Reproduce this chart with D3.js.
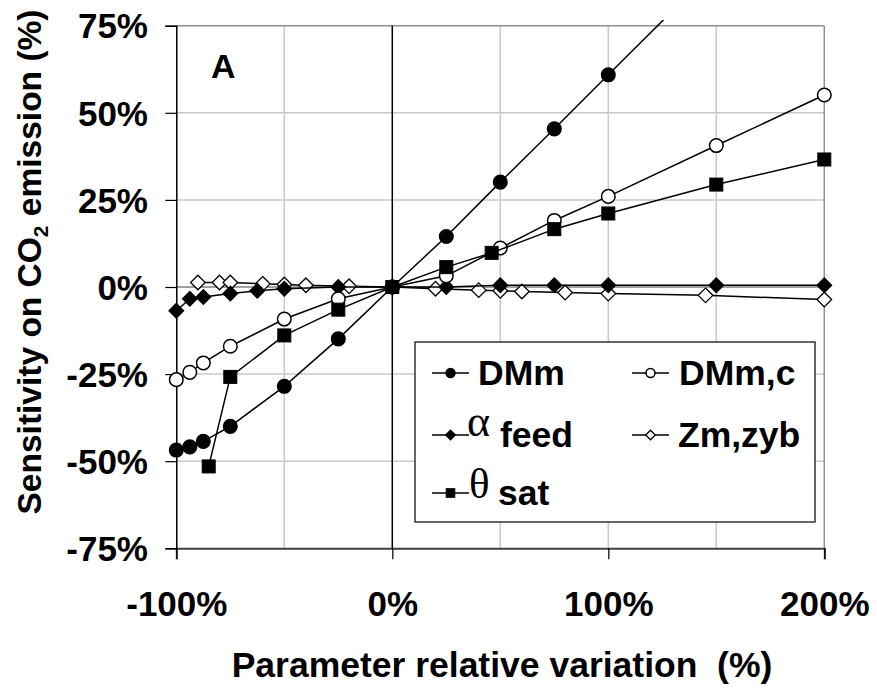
<!DOCTYPE html>
<html><head><meta charset="utf-8">
<script src="https://cdn.jsdelivr.net/npm/d3@7"></script>
<style>body{margin:0;background:#fff}svg{display:block}text{font-family:"Liberation Sans",Arial,sans-serif;font-weight:bold;fill:#000}</style>
</head><body><svg id="c" width="877" height="691"></svg>
<script>
// Data
const xTicks = [-100, 0, 100, 200];
const yTicks = [-75, -50, -25, 0, 25, 50, 75];
const xGrid = [-50, 50, 100, 150];
const yGrid = [-50, -25, 0, 25, 50];

const dmmX = [-100, -93.75, -87.5, -75, -50, -25, 0, 25, 50, 75, 100, 150, 200];
const dmmY = [-46.8, -45.9, -44.3, -40, -28.5, -14.9, 0, 14.5, 30.1, 45.4, 60.9, 91.8, 122.6];
const dmmcX = [-100, -93.75, -87.5, -75, -50, -25, 0, 25, 50, 75, 100, 150, 200];
const dmmcY = [-26.6, -24.5, -21.8, -17, -9.2, -3.4, 0, 3.2, 11.2, 19.1, 26.0, 40.6, 55.1];
const alphaX = [-100, -93.75, -87.5, -75, -62.5, -50, -25, 0, 25, 50, 75, 100, 150, 200];
const alphaY = [-6.8, -3.4, -2.9, -1.9, -1.1, -0.5, 0, 0, 0, 0.5, 0.5, 0.5, 0.5, 0.5];
const zmX = [-90, -80, -75, -60, -50, -40, -20, 0, 20, 40, 50, 60, 80, 100, 145, 200];
const zmY = [1.3, 1.3, 1.3, 0.9, 0.7, 0.5, 0.2, 0, -0.5, -0.9, -1.1, -1.3, -1.6, -1.9, -2.4, -3.6];
const thetaX = [-85, -75, -50, -25, 0, 25, 46, 75, 100, 150, 200];
const thetaY = [-51.5, -25.8, -13.9, -6.5, 0, 5.7, 9.8, 16.6, 21.1, 29.4, 36.6];

const svg = d3.select("#c");
const L = 176.3, R = 824.3, T = 25.7, B = 548.3;
const x = d3.scaleLinear().domain([-100, 200]).range([L, R]);
const y = d3.scaleLinear().domain([-75, 75]).range([B, T]);

// gridlines
svg.selectAll(".vg").data(xGrid).enter().append("line")
  .attr("x1", d => x(d)).attr("x2", d => x(d)).attr("y1", T).attr("y2", B)
  .attr("stroke", "#c8c8c8").attr("stroke-width", 1.5);
svg.selectAll(".hg").data(yGrid).enter().append("line")
  .attr("x1", L).attr("x2", R).attr("y1", d => y(d)).attr("y2", d => y(d))
  .attr("stroke", d => d === 0 ? "#808080" : "#c8c8c8").attr("stroke-width", 1.5);
// plot border top/right
svg.append("line").attr("x1", L).attr("x2", R).attr("y1", T).attr("y2", T).attr("stroke", "#909090").attr("stroke-width", 1.5);
svg.append("line").attr("x1", R).attr("x2", R).attr("y1", T).attr("y2", B).attr("stroke", "#909090").attr("stroke-width", 1.5);
// zero vertical line
svg.append("line").attr("x1", x(0)).attr("x2", x(0)).attr("y1", T).attr("y2", B).attr("stroke", "#000").attr("stroke-width", 1.5);

const FF = '"Liberation Sans",Arial,sans-serif';
// axes
const xAxis = svg.append("g").attr("transform", `translate(0,${B})`)
  .call(d3.axisBottom(x).tickValues(xTicks).tickSize(11).tickFormat(d => d + "%"));
xAxis.select(".domain").attr("stroke", "#404040").attr("stroke-width", 2);
xAxis.selectAll(".tick line").attr("stroke", "#000").attr("stroke-width", 1.2);
xAxis.selectAll(".tick text").attr("font-size", 35).attr("dy", null).attr("y", 616 - B)
  .style("font-family", FF).style("font-weight", "bold").attr("fill", "#000");

const yAxis = svg.append("g").attr("transform", `translate(${L},0)`)
  .call(d3.axisLeft(y).tickValues(yTicks).tickSize(11).tickFormat(d => d + "%"));
yAxis.select(".domain").attr("stroke", "#000").attr("stroke-width", 1.5);
yAxis.selectAll(".tick line").attr("stroke", "#000").attr("stroke-width", 1.2);
yAxis.selectAll(".tick text").attr("font-size", 35).attr("x", 148 - L).attr("dy", "0.35em")
  .style("font-family", FF).style("font-weight", "bold").attr("fill", "#000");

// clip
svg.append("clipPath").attr("id", "clip").append("rect")
  .attr("x", L - 10).attr("y", 20).attr("width", R - L + 20).attr("height", B - 20 + 10);

const line = d3.line().x(d => x(d[0])).y(d => y(d[1]));
const g = svg.append("g").attr("clip-path", "url(#clip)");

function series(xs, ys, drawMarker) {
  const pts = xs.map((v, i) => [v, ys[i]]);
  g.append("path").datum(pts).attr("d", line).attr("fill", "none").attr("stroke", "#000").attr("stroke-width", 1.5);
  const inside = pts.filter(p => p[1] <= 75 && p[1] >= -75);
  inside.forEach(p => drawMarker(g, x(p[0]), y(p[1]), 1));
}
function circleM(fill) {
  return (sel, cx, cy, s) => sel.append("circle").attr("cx", cx).attr("cy", cy).attr("r", 6.8 * s)
    .attr("fill", fill).attr("stroke", "#000").attr("stroke-width", 1.5);
}
function diamondM(fill) {
  return (sel, cx, cy, s) => {
    const h = 7.3 * s;
    sel.append("path").attr("d", `M${cx},${cy - h}L${cx + h},${cy}L${cx},${cy + h}L${cx - h},${cy}Z`)
      .attr("fill", fill).attr("stroke", "#000").attr("stroke-width", 1.3);
  };
}
function squareM(sel, cx, cy, s) {
  const h = 6.5 * s;
  sel.append("rect").attr("x", cx - h).attr("y", cy - h).attr("width", 2 * h).attr("height", 2 * h)
    .attr("fill", "#000").attr("stroke", "#000").attr("stroke-width", 1);
}

series(zmX, zmY, diamondM("#fff"));
series(alphaX, alphaY, diamondM("#000"));
series(dmmcX, dmmcY, circleM("#fff"));
series(dmmX, dmmY, circleM("#000"));
series(thetaX, thetaY, squareM);

// Label A
svg.append("text").attr("x", 211).attr("y", 78).attr("font-size", 34).text("A");

// legend
const lg = svg.append("g");
lg.append("rect").attr("x", 415).attr("y", 342).attr("width", 400).attr("height", 180)
  .attr("fill", "#fff").attr("stroke", "#000").attr("stroke-width", 1.2);
function legSym(x0, yy, m) {
  lg.append("line").attr("x1", x0).attr("x2", x0 + 37).attr("y1", yy).attr("y2", yy).attr("stroke", "#000").attr("stroke-width", 1.3);
  m(lg, x0 + 18.5, yy, 0.66);
}
const LF = 35.5;
legSym(432, 373, circleM("#000"));
lg.append("text").attr("x", 478).attr("y", 385).attr("font-size", LF).text("DMm");
legSym(632, 373, circleM("#fff"));
lg.append("text").attr("x", 679).attr("y", 385).attr("font-size", LF).text("DMm,c");
legSym(432, 435, diamondM("#000"));
lg.append("text").attr("x", 467).attr("y", 436).attr("font-size", 44)
  .style("font-family", '"Liberation Serif","Times New Roman",serif').style("font-weight", "normal").text("α");
lg.append("text").attr("x", 500).attr("y", 447).attr("font-size", LF).text("feed");
legSym(632, 435, diamondM("#fff"));
lg.append("text").attr("x", 678).attr("y", 447).attr("font-size", LF).text("Zm,zyb");
legSym(432, 493, squareM);
lg.append("text").attr("x", 469).attr("y", 498).attr("font-size", 43)
  .style("font-family", '"Liberation Serif","Times New Roman",serif').style("font-weight", "normal").text("θ");
lg.append("text").attr("x", 498).attr("y", 505).attr("font-size", LF).text("sat");

// axis titles
svg.append("text").attr("x", 502).attr("y", 677).attr("text-anchor", "middle").attr("font-size", 35.5)
  .text("Parameter relative variation\u00a0\u00a0(%)");
const yt = svg.append("text").attr("transform", "translate(41,262) rotate(-90)").attr("text-anchor", "middle").attr("font-size", 33.5);
yt.append("tspan").text("Sensitivity on CO");
yt.append("tspan").attr("font-size", 21).attr("dy", 7).text("2");
yt.append("tspan").attr("dy", -7).text(" emission (%)");
</script></body></html>
